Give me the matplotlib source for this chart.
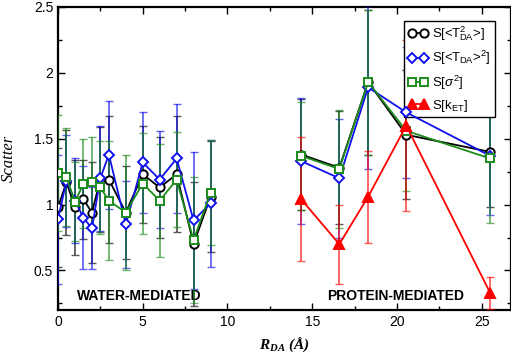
import matplotlib
matplotlib.use("Agg")
import matplotlib.pyplot as plt
from matplotlib.ticker import MultipleLocator

plt.rcParams['font.family'] = ['Liberation Sans', 'DejaVu Sans']
plt.rcParams['mathtext.fontset'] = 'custom'
plt.rcParams['mathtext.rm'] = 'Liberation Sans'
plt.rcParams['mathtext.it'] = 'Liberation Sans:italic'
plt.rcParams['mathtext.bf'] = 'Liberation Serif:italic:bold'

# water-mediated pathways
x_water = [0, 0.5, 1, 1.5, 2, 2.5, 3, 4, 5, 6, 7, 8, 9]
tda2_water = [0.98, 1.17, 0.98, 1.04, 0.94, 1.19, 1.19, 0.94, 1.23, 1.13, 1.23, 0.70, 1.06]
tda2_water_err = [0.45, 0.40, 0.36, 0.30, 0.38, 0.40, 0.48, 0.35, 0.37, 0.38, 0.44, 0.47, 0.42]
tdasq_water = [0.89, 1.18, 1.03, 0.90, 0.82, 1.20, 1.38, 0.85, 1.32, 1.19, 1.35, 0.88, 1.01]
tdasq_water_err = [0.49, 0.35, 0.32, 0.39, 0.31, 0.40, 0.41, 0.33, 0.38, 0.37, 0.41, 0.52, 0.48]
sig_water = [1.24, 1.21, 1.02, 1.16, 1.17, 1.13, 1.03, 0.94, 1.16, 1.03, 1.19, 0.73, 1.09]
sig_water_err = [0.44, 0.37, 0.30, 0.34, 0.34, 0.35, 0.45, 0.44, 0.38, 0.43, 0.36, 0.48, 0.40]

# protein-mediated pathways
x_prot = [14.35, 16.6, 18.3, 20.55, 25.5]
tda2_prot = [1.38, 1.28, 1.93, 1.53, 1.40]
tda2_prot_err = [0.42, 0.43, 0.55, 0.49, 0.42]
tdasq_prot = [1.33, 1.20, 1.89, 1.70, 1.37]
tdasq_prot_err = [0.48, 0.45, 0.62, 0.50, 0.45]
sig_prot = [1.37, 1.27, 1.93, 1.56, 1.35]
sig_prot_err = [0.41, 0.45, 0.55, 0.46, 0.49]
ket_prot = [1.04, 0.70, 1.06, 1.60, 0.33]
ket_prot_err = [0.47, 0.30, 0.35, 0.65, 0.12]

labels = [r'S[<T$_\mathrm{DA}^\mathrm{2}$>]', r'S[<T$_\mathrm{DA}$>$^\mathrm{2}$]',
          r'S[$\sigma^\mathrm{2}$]', r'S[k$_\mathrm{ET}$]']

fig = plt.figure(figsize=(5.11, 3.6), dpi=100)
ax = fig.add_axes([58/511, 50/360, 452.5/511, 303/360])

green = '#1c8c1c'
series = [
    ('k', 'o', 6, 'white', [(x_water, tda2_water, tda2_water_err), (x_prot, tda2_prot, tda2_prot_err)]),
    ('#1010ee', 'D', 5, 'white', [(x_water, tdasq_water, tdasq_water_err), (x_prot, tdasq_prot, tdasq_prot_err)]),
    (green, 's', 5.5, 'white', [(x_water, sig_water, sig_water_err), (x_prot, sig_prot, sig_prot_err)]),
    ('#ff0000', '^', 7, '#ff0000', [(x_prot, ket_prot, ket_prot_err)]),
]

handles = []
for i, (c, m, ms, mfc, parts) in enumerate(series):
    for j, (xx, yy, ee) in enumerate(parts):
        ax.errorbar(xx, yy, yerr=ee, fmt='none', ecolor=c, elinewidth=1.3,
                    capsize=3, capthick=1.0, alpha=0.65, zorder=2 + i)
        ln, = ax.plot(xx, yy, color=c, marker=m, ms=ms, mfc=mfc, mec=c,
                      mew=1.4, lw=1.3, zorder=6 + i)
        if j == 0:
            handles.append(ln)

ax.set_xlim(0, 26.7)
ax.set_ylim(0.2, 2.5)
ax.xaxis.set_major_locator(MultipleLocator(5))
ax.xaxis.set_minor_locator(MultipleLocator(2.5))
ax.yaxis.set_major_locator(MultipleLocator(0.5))
ax.yaxis.set_minor_locator(MultipleLocator(0.25))
ax.tick_params(which='both', direction='in', top=True, right=True, labelsize=10)
ax.tick_params(which='major', length=5, width=1)
ax.tick_params(which='minor', length=3, width=1)
ax.set_yticks([0.5, 1, 1.5, 2, 2.5])
ax.set_yticklabels(['0.5', '1', '1.5', '2', '2.5'])
for sp in ax.spines.values():
    sp.set_linewidth(1.6)

ax.set_ylabel('Scatter', fontfamily='Liberation Serif', style='italic', fontsize=12, labelpad=12)
ax.set_xlabel(r'$\mathbf{R_{DA}}$ (Å)', fontfamily='Liberation Serif', style='italic',
              weight='bold', fontsize=11, labelpad=5)

ax.text(1.1, 0.31, 'WATER-MEDIATED', fontsize=10, weight='bold', va='center')
ax.text(15.9, 0.31, 'PROTEIN-MEDIATED', fontsize=10, weight='bold', va='center')

leg = ax.legend(handles, labels, loc='upper right', bbox_to_anchor=(0.965, 0.955),
                fontsize=9.5, numpoints=2, handlelength=1.5, handletextpad=0.3,
                borderpad=0.3, labelspacing=0.45, fancybox=False, framealpha=1,
                borderaxespad=0)
leg.get_frame().set_edgecolor('k')
leg.get_frame().set_linewidth(1.0)

fig.savefig('out.png', dpi=100)
